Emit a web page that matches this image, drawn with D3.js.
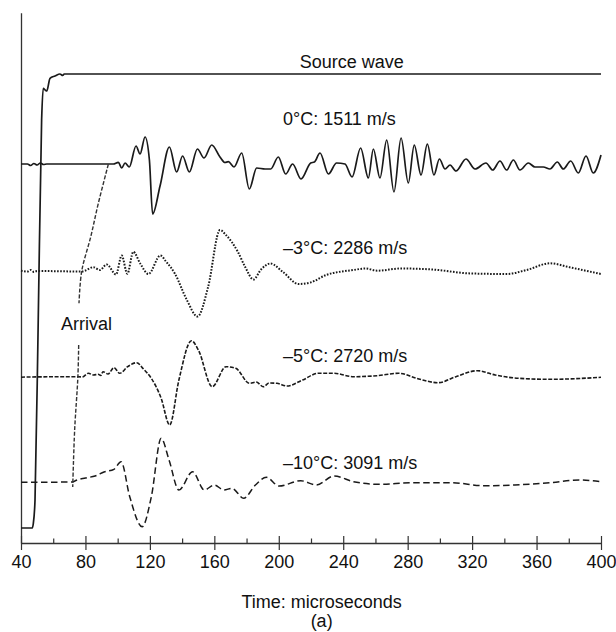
<!DOCTYPE html>
<html><head><meta charset="utf-8">
<script src="https://cdn.jsdelivr.net/npm/d3@7"></script>
<style>
body{margin:0;background:#fff}
text{font-family:"Liberation Sans",Arial,Helvetica,sans-serif;fill:#111}
</style>
</head><body>
<svg id="c" width="616" height="632"></svg>
<script>
// ---- data ----
const majorTicks = [40, 80, 120, 160, 200, 240, 280, 320, 360, 400];
const minorTicks = [60, 100, 140, 180, 220, 260, 300, 340, 380];
const xTitle = "Time: microseconds";
const panelLabel = "(a)";
const traceNames = ["0°C: 1511 m/s", "–3°C: 2286 m/s", "–5°C: 2720 m/s", "–10°C: 3091 m/s"];
const sourceName = "Source wave";
const arrivalName = "Arrival";
// vertical offset of each trace baseline (arbitrary amplitude units)
const baselines = [318, 210.5, 105, 0];

// source wave: [time µs, level]
const sourceWave = [[40,-46],[47,-46],[47.6,-42],[48.7,-18],[50.7,162],[52.8,362],[53.8,393.7],[55,392],[56,391],[58,403.7],[61.1,406],[64.2,408],[65.9,406.5],[66.8,408],[400,408]];

// received waves: [time µs, amplitude]
const trace0 = [[40,0],[44,0],[46,-1.5],[48,0.5],[50,-1],[52,1],[54,-0.5],[56,0],[94,0],[97.3,0],[100.4,1.7],[102.5,-4],[104.6,1],[107.2,-3],[111.4,18],[113.9,10],[117,27],[119.7,4],[121.7,-50],[126.3,-22],[132.1,17],[136.6,-8],[140.3,8],[144.5,-8],[149.5,15],[153.6,6],[158.4,19],[163.5,7],[166.6,1.5],[168.7,2.3],[172.2,-3],[177,11],[181.7,-25],[186.3,-4],[191.5,-5],[195,-5],[199.7,7],[204.3,-10],[208.6,0],[213.8,-15],[219.8,1],[222.1,2],[225.6,11],[230.8,-10],[235.9,1],[241.1,0],[245.5,-13],[250.8,16],[255.6,-14],[258.7,15],[262.8,-14],[267,24],[271.5,-28],[275.9,26],[280.4,-19],[284.1,19],[288.3,-11],[292.2,20],[296.3,-11],[299.7,5],[303.2,-5],[306.3,-1],[310,-7],[316.2,5],[321.8,-5],[328.6,1],[332.8,-6],[337.3,3],[341.4,-6],[345.6,4],[349.7,-6],[354.9,1],[359,-3],[364.2,-3],[368.3,-5],[372.9,2],[376.6,-5],[381.2,3],[385.9,-9],[390.7,8],[395.2,-9],[400,9]];
const trace3 = [[40,0.8],[44,0],[46,1.5],[48,-0.5],[50,0.5],[77.7,0],[80,1],[84.9,4.3],[89,1.5],[93.2,7],[99,-3],[102.5,16],[106,-2.3],[109.7,19.7],[114,8],[119.1,-2.5],[126.5,16],[130,10],[135.5,-2],[142.8,-28],[149.6,-45],[156.2,-15],[163.5,41.5],[167.2,36.5],[174.5,20],[179,5],[184.3,-8],[189,2],[194.8,8],[202.6,-0.5],[212.3,-12.5],[219.6,-11],[229.4,-3.5],[246.4,1.5],[253.8,3],[261.1,0.8],[275.7,3],[295.2,2],[319.6,-2],[341.6,-2.5],[353.8,1.5],[368.4,8.2],[380.6,4.2],[400,-2.5]];
const trace5 = [[40,-0.3],[44,0],[75.7,0.3],[78,0],[81.8,3.7],[85,2],[87.9,2.7],[89.5,1.5],[90.9,5.3],[94,3],[97.7,9.3],[101.3,3.7],[106.2,10.3],[111.8,14.3],[116,8],[120.9,-1.3],[127,-21.3],[132.3,-48],[138,-3],[145.8,36.3],[150.1,27],[158.7,-9.7],[167.2,10.3],[173.3,8.7],[181.8,-6.3],[186,-5],[190.4,-9.7],[194,-6],[198.9,-6.3],[205,-9],[214.8,-3],[224.5,3.7],[234.3,3.7],[246.4,0.3],[261.1,1.3],[274.5,3.7],[285.5,-1.3],[298.9,-5.7],[309.9,0.3],[323.3,6.3],[334.3,2],[348.9,-1.3],[368.4,-2.3],[400,-0.3]];
const trace10 = [[40,-0.3],[72.1,0],[74,1.5],[80,4],[86,6],[91.5,10],[97.7,12.7],[102.1,20.3],[107.5,-14.7],[115.2,-44.7],[120.9,-14.7],[127,43.7],[131.9,22],[138,-8],[146.5,10.3],[153.8,-8],[159.9,-3],[166,-8],[170.9,-6.3],[178.2,-16.3],[185.5,-3],[192.3,4.7],[200.2,-4],[213.6,1.3],[223.3,-3],[234.3,6],[246.4,0.3],[262.3,-2.3],[283.1,-0.7],[307.5,-0.7],[327,-3.7],[346.5,-3],[368.4,-0.7],[386.7,2],[400,0.3]];
const traces = [trace0, trace3, trace5, trace10];

// arrival picks: [time µs, level]
const arrivalUpper = [[94.2,317.7],[88,278.7],[83.3,245.3],[77.7,211],[76,178.7]];
const arrivalLower = [[75.8,137],[75.3,105],[73.3,52],[72.1,-5]];

// ---- drawing ----
const svg = d3.select("#c");
const x = d3.scaleLinear().domain([40, 400]).range([21, 601]);
const y = d3.scaleLinear().domain([-61, 469.3]).range([543, 12.7]);

const ink = "#1a1a1a";
const dashes = [null, "1.6,1.5", "4,1.6", "6.5,3.5"];
const widths = [1.7, 2, 1.6, 1.5];

// axes
const ax = svg.append("g").attr("transform", "translate(0,543)")
  .call(d3.axisBottom(x).tickValues(majorTicks).tickFormat(d3.format("d")).tickSizeOuter(0));
ax.select(".domain").attr("stroke", "#333").attr("stroke-width", 1.3);
ax.selectAll(".tick line").attr("y1", -7).attr("y2", 7).attr("stroke", "#333").attr("stroke-width", 1.2);
ax.selectAll(".tick text").attr("y", 25).attr("dy", 0).attr("font-size", 18)
  .style("font-family", '"Liberation Sans",Arial,sans-serif').attr("fill", "#111");

const axm = svg.append("g").attr("transform", "translate(0,543)")
  .call(d3.axisBottom(x).tickValues(minorTicks).tickFormat("").tickSizeOuter(0));
axm.select(".domain").remove();
axm.selectAll(".tick line").attr("y1", -4.5).attr("y2", 0).attr("stroke", "#333").attr("stroke-width", 1.2);

const ay = svg.append("g").attr("transform", "translate(21,0)")
  .call(d3.axisLeft(y).tickValues([]).tickSizeOuter(0));
ay.select(".domain").attr("stroke", "#333").attr("stroke-width", 1.3);

// source wave
const lineAbs = d3.line().x(d => x(d[0])).y(d => y(d[1])).curve(d3.curveMonotoneX);
svg.append("path").datum(sourceWave).attr("d", lineAbs)
  .attr("fill", "none").attr("stroke", ink).attr("stroke-width", 1.7);

// traces
traces.forEach((tr, i) => {
  const ln = d3.line().x(d => x(d[0])).y(d => y(baselines[i] + d[1])).curve(d3.curveMonotoneX);
  const p = svg.append("path").datum(tr).attr("d", ln)
    .attr("fill", "none").attr("stroke", ink).attr("stroke-width", widths[i]);
  if (dashes[i]) p.attr("stroke-dasharray", dashes[i]);
});

// arrival line
const lineArr = d3.line().x(d => x(d[0])).y(d => y(d[1])).curve(d3.curveCatmullRom);
[arrivalUpper, arrivalLower].forEach(seg => {
  svg.append("path").datum(seg).attr("d", lineArr)
    .attr("fill", "none").attr("stroke", "#333").attr("stroke-width", 1.4)
    .attr("stroke-dasharray", "4,1.8");
});

// labels
const fs = 18;
svg.append("text").attr("x", x(245.3)).attr("y", y(408) - 6)
  .attr("text-anchor", "middle").attr("font-size", fs).text(sourceName);
const labelLift = [39, 17.5, 15, 13];
traceNames.forEach((t, i) => {
  svg.append("text").attr("x", x(202.6)).attr("y", y(baselines[i]) - labelLift[i])
    .attr("font-size", fs).text(t);
});
svg.append("text").attr("x", x(64.8)).attr("y", 330).attr("font-size", fs).text(arrivalName);

svg.append("text").attr("x", x(226.6)).attr("y", 607.5).attr("text-anchor", "middle")
  .attr("font-size", fs).text(xTitle);
svg.append("text").attr("x", x(226.6)).attr("y", 627).attr("text-anchor", "middle")
  .attr("font-size", fs).text(panelLabel);
</script>
</body></html>
